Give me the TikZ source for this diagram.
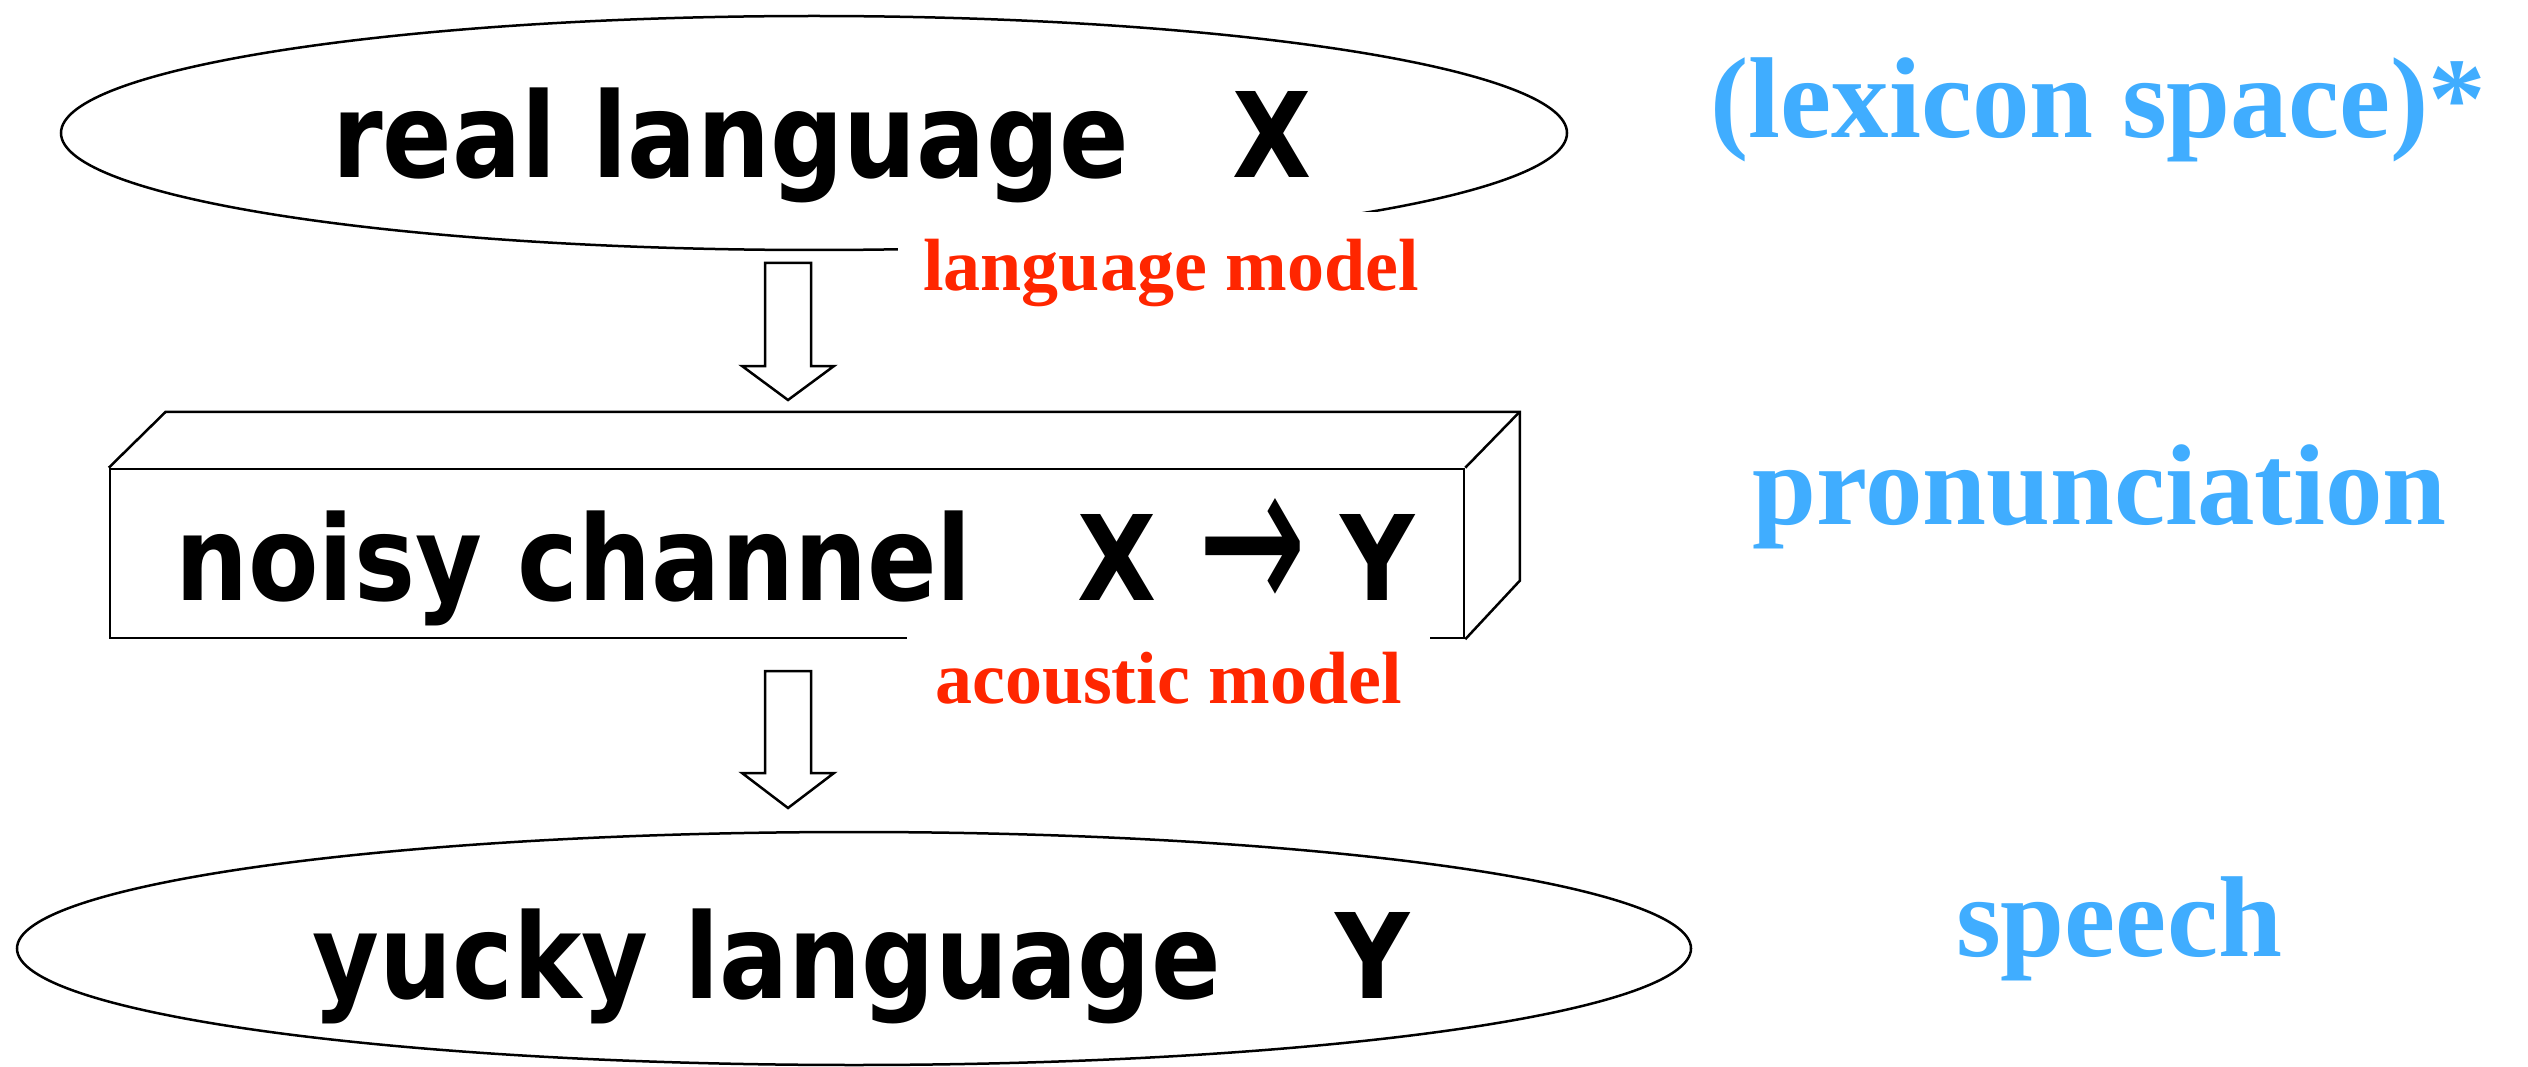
\documentclass[tikz,border=0pt]{standalone}
\usepackage{fontspec}
\usepackage{graphicx}
\usetikzlibrary{shapes.geometric}
\newfontfamily\boxfont[FakeStretch=0.87]{DejaVu Sans}
\newfontfamily\arrowfont{DejaVu Sans}
\newfontfamily\timesfont{Liberation Serif}
\definecolor{lblred}{RGB}{255,38,0}
\definecolor{lblblue}{RGB}{64,173,255}
\tikzset{
  outline/.style={draw=black, line width=2.5pt},
  bigtext/.style={anchor=base west, inner sep=0pt, font=\boxfont\bfseries\fontsize{118}{120}\selectfont},
  modellabel/.style={anchor=base west, fill=white, inner xsep=25pt, inner ysep=28pt, text=lblred, font=\timesfont\bfseries\fontsize{74}{76}\selectfont},
  sidelabel/.style={anchor=base west, inner sep=0pt, text=lblblue, font=\timesfont\bfseries\fontsize{115}{117}\selectfont},
  blockarrow/.style={draw=black, line width=2.5pt, fill=white, line join=miter}
}
\begin{document}
\begin{tikzpicture}[x=1pt, y=-1pt]
\useasboundingbox (0,0) rectangle (2528,1067);

% top ellipse
\node[ellipse, outline, minimum width=1506pt, minimum height=234pt, inner sep=0pt] (real) at (814,133) {};
\node[bigtext] (realtxt) at (332,178) {real language};
\node[bigtext] (realx) at (1232,178) {X};
\node[modellabel] (lm) at (898,291) {language model};

% arrow 1
\draw[blockarrow] (765,263) -- (811,263) -- (811,366) -- (834,366) -- (788,400) -- (742,366) -- (765,366) -- cycle;

% 3D box
\node[outline, minimum width=1354pt, minimum height=169pt, inner sep=0pt] (chan) at (787,553.5) {};
\draw[outline, line join=miter] (chan.north west) -- ++(57,-56) coordinate (bnw) -- ++(1354,0) coordinate (bne) -- ++(0,169) coordinate (bse) -- (chan.south east);
\draw[outline] (bne) -- (chan.north east);
\node[bigtext] (chantxt) at (175,600) {noisy channel};
\node[bigtext] (chanx) at (1077,600) {X};
\node[inner sep=0pt, anchor=base west, font=\arrowfont\fontsize{118}{120}\selectfont] (chanarrow) at (1198,616) {\smash{\resizebox{108pt}{118pt}{→}}};
\node[bigtext] (chany) at (1340,600) {Y};
\node[modellabel, inner xsep=28pt, inner ysep=20pt] (am) at (907,703) {acoustic model};

% arrow 2
\draw[blockarrow] (765,671) -- (811,671) -- (811,773) -- (834,773) -- (788,808) -- (742,773) -- (765,773) -- cycle;

% bottom ellipse
\node[ellipse, outline, minimum width=1674pt, minimum height=233pt, inner sep=0pt] (yucky) at (854,948.5) {};
\node[bigtext] (yuckytxt) at (312,998) {yucky language};
\node[bigtext] (yuckyy) at (1335,998) {Y};

% side labels
\node[sidelabel] (lex) at (1710,138) {(lexicon space)*};
\node[sidelabel] (pron) at (1752,524) {pronunciation};
\node[sidelabel] (sp) at (1956,956) {speech};
\end{tikzpicture}
\end{document}
